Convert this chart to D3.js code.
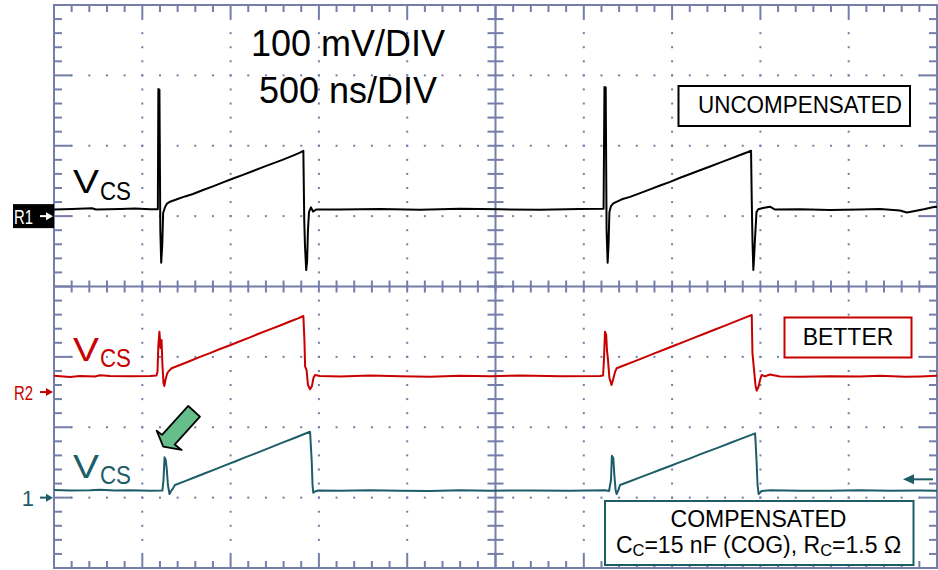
<!DOCTYPE html>
<html>
<head>
<meta charset="utf-8">
<script src="https://cdn.jsdelivr.net/npm/d3@7"></script>
<style>
  body { margin: 0; background: #fff; }
  svg { display: block; font-family: "Liberation Sans", Arial, sans-serif; }
</style>
</head>
<body>
<svg id="scope"></svg>
<script>
//Data: time in ns, level in mV measured from each channel's ground marker
const traceR1 = [[0,9.4],[102,10.1],[215,11.2],[238,9.4],[374,10.1],[459,10.7],[544,9.7],[588,9.7],[591,180.5],[597,179.8],[602,-19.7],[607,-66.2],[613,-41],[618,4.4],[629,12.9],[640,17.9],[657,20.5],[696,24.0],[742,28.0],[787,31.4],[844,37.1],[900,42.3],[957,47.9],[1014,53.4],[1070,58.7],[1127,64.1],[1183,69.7],[1240,74.9],[1297,80.3],[1353,85.9],[1393,90.2],[1412,92.9],[1417,-5.5],[1421,-41],[1428,-76.6],[1433,-65.2],[1438,-19.7],[1444,5.8],[1455,12.5],[1467,6.5],[1484,9.4],[1620,9.4],[1846,10.1],[2072,8.9],[2299,10.4],[2525,9.7],[2752,8.9],[2978,10.1],[3112,10.4],[3117,183.4],[3124,182.7],[3129,-19.7],[3135,-66.2],[3140,-41],[3145,5.8],[3154,14.3],[3167,18.2],[3215,23.9],[3262,27.3],[3319,32.7],[3375,38.1],[3432,43.6],[3489,48.7],[3545,54.5],[3602,59.8],[3658,65.2],[3715,70.6],[3772,76.0],[3828,81.4],[3885,86.8],[3930,91.1],[3947,92.9],[3951,22.9],[3955,-33.9],[3960,-76.6],[3965,-55.3],[3969,-33.9],[3978,5.8],[3988,9.7],[4015,11.5],[4054,13.4],[4083,9.4],[4224,9.7],[4394,8.7],[4564,9.4],[4677,10.1],[4790,8],[4830,5.1],[4875,7.2],[4932,10.1],[4989,13.4],[5000,12.9]];

const traceR2 = [[0,23.3],[91,21.4],[147,22.9],[232,22.2],[260,24.0],[317,22.9],[430,22.6],[544,22.9],[580,23.6],[586,28.6],[591,66.9],[597,85.8],[603,62.6],[609,74],[614,38.5],[620,12.9],[625,8.7],[631,17.2],[640,25.7],[647,29],[666,33.8],[713,38.5],[770,44.2],[827,49.9],[883,55.3],[940,61.2],[997,66.6],[1053,72.2],[1110,77.8],[1166,83.5],[1223,89.1],[1280,94.6],[1336,100.3],[1382,104.8],[1412,108.1],[1418,74],[1422,36.1],[1430,31.4],[1438,10.1],[1450,4],[1461,8.7],[1469,20],[1478,24.3],[1506,22.9],[1620,22.2],[1789,23.6],[1959,22.6],[2129,21.7],[2299,23.2],[2469,22.6],[2639,23.4],[2865,22.3],[3092,22.9],[3109,23.6],[3114,45.6],[3120,85.8],[3127,81.1],[3131,59.8],[3137,45.6],[3145,20],[3157,10.1],[3165,17.2],[3177,28.6],[3186,33.8],[3233,38.5],[3290,44],[3347,49.7],[3403,55.3],[3460,60.9],[3517,66.5],[3573,72],[3630,77.7],[3686,83.2],[3743,88.9],[3800,94.5],[3856,100.1],[3913,105.7],[3951,109.5],[3955,55.5],[3964,31.4],[3972,10.1],[3979,2],[3989,7.2],[3998,17.2],[4007,24.3],[4026,22.2],[4054,25],[4111,22.2],[4224,21.7],[4394,22.6],[4564,22.2],[4677,23.2],[4819,21.7],[4904,22.2],[5000,23.2]];

const traceCh1 = [[0,10.8],[91,10.1],[204,10.4],[260,11.2],[345,10.1],[430,10.5],[544,9.8],[614,10.1],[620,25],[626,57.2],[633,53.4],[639,39.2],[645,17.9],[654,5.1],[663,9.4],[674,13.2],[685,17.9],[742,23.4],[798,29],[855,34.7],[912,40.2],[968,45.9],[1025,51.4],[1082,57.1],[1138,62.6],[1195,68.3],[1251,73.9],[1308,79.5],[1365,85.1],[1421,90.8],[1450,93.6],[1459,53.4],[1464,17.9],[1468,7],[1478,8.7],[1495,10.1],[1620,9.7],[1789,10.5],[1959,9.9],[2129,9.5],[2299,10.4],[2469,9.8],[2695,10.2],[2922,9.7],[3120,10.5],[3143,9.4],[3154,25],[3159,59.5],[3167,56.3],[3173,32.1],[3180,10.8],[3186,5.1],[3196,10.8],[3205,17.9],[3262,23.3],[3319,28.7],[3375,34.1],[3432,39.6],[3489,45],[3545,50.4],[3602,55.8],[3658,61.4],[3715,66.8],[3772,72.2],[3828,77.6],[3885,83.1],[3941,88.5],[3970,91.3],[3978,53.4],[3984,17.9],[3990,5.1],[4007,9.4],[4054,10.4],[4224,9.9],[4394,9.7],[4564,10.5],[4734,9.8],[4904,10.2],[5000,9.9]];

//channel ground markers in divisions, trigger level in mV on ch1
const channelNames = ['R1', 'R2', '1'];
const channelOffsets = [1, -1.5, -3];
const channelColors = ['#000000', '#c80000', '#1d5d68'];
const triggerLevel = 26;
const spikePoint = [626, 57.2];

const scaleText = ['100 mV/DIV', '500 ns/DIV'];
const boxLabels = ['UNCOMPENSATED', 'BETTER', 'COMPENSATED'];

window.addEventListener('DOMContentLoaded', e => {
    let width = 938;
    let height = 570;
    let gridColor = '#757da9';

    let svg = d3.select('#scope')
        .attr('width', width)
        .attr('height', height);

    let xScale = d3.scaleLinear().domain([0, 5000]).range([54, 937]);
    let yScale = d3.scaleLinear().domain([-4, 4]).range([568, 5]);

    let minorX = xScale.ticks(50);
    let minorY = yScale.ticks(40);
    const isMajorX = t => t % 500 === 0;
    const isMajorY = v => Math.abs(v - Math.round(v)) < 1e-6;

    //Graticule
    let grid = svg.append('g');
    let x0 = xScale(0), x1 = xScale(5000), y0 = yScale(4), y1 = yScale(-4);
    let xc = xScale(2500), yc = yScale(0);

    let dots = [];
    minorX.filter(t => isMajorX(t) && t > 0 && t < 5000 && t !== 2500)
        .forEach(t => minorY.forEach(v => dots.push([t, v])));
    minorY.filter(v => isMajorY(v) && v > -4 && v < 4 && Math.abs(v) > 1e-6)
        .forEach(v => minorX.forEach(t => dots.push([t, v])));

    grid.selectAll('.dot')
        .data(dots)
        .enter()
        .append('rect')
        .attr('class', 'dot')
        .attr('x', d => xScale(d[0]) - 1)
        .attr('y', d => yScale(d[1]) - 1)
        .attr('width', 2)
        .attr('height', 2)
        .attr('fill', gridColor);

    let segs = [];
    minorX.forEach(t => {
        let x = xScale(t);
        let len = isMajorX(t) ? 13 : 7;
        segs.push([x, y0, x, y0 + len]);
        segs.push([x, y1, x, y1 - len]);
        segs.push([x, yc - 6, x, yc + 6]);
    });
    minorY.forEach(v => {
        let y = yScale(v);
        let len = isMajorY(v) ? 18 : 8;
        segs.push([x0, y, x0 + len, y]);
        segs.push([x1, y, x1 - len, y]);
        segs.push([xc - 8, y, xc + 8, y]);
    });
    segs.push([xc, y0, xc, y1]);
    segs.push([x0, yc, x1, yc]);

    grid.selectAll('.tick')
        .data(segs)
        .enter()
        .append('line')
        .attr('x1', d => d[0]).attr('y1', d => d[1])
        .attr('x2', d => d[2]).attr('y2', d => d[3])
        .attr('stroke', gridColor)
        .attr('stroke-width', 2);

    grid.append('rect')
        .attr('x', x0).attr('y', y0)
        .attr('width', x1 - x0).attr('height', y1 - y0)
        .attr('fill', 'none')
        .attr('stroke', gridColor)
        .attr('stroke-width', 2);

    //Traces
    [traceR1, traceR2, traceCh1].forEach((trace, i) => {
        let line = d3.line()
            .x(d => xScale(d[0]))
            .y(d => yScale(channelOffsets[i] + d[1] / 100));
        svg.append('path')
            .datum(trace)
            .attr('d', line)
            .attr('fill', 'none')
            .attr('stroke', channelColors[i])
            .attr('stroke-width', 2)
            .attr('stroke-linejoin', 'round');
    });

    //Ground markers on the left
    channelOffsets.forEach((off, i) => {
        let y = yScale(off);
        let fg = channelColors[i];
        if (i === 0) {
            svg.append('rect')
                .attr('x', 13).attr('y', y - 12)
                .attr('width', x0 - 13).attr('height', 24)
                .attr('fill', '#000');
            fg = '#fff';
        }
        let label = svg.append('text')
            .attr('y', y + 8)
            .attr('font-size', 20)
            .attr('fill', fg)
            .text(channelNames[i]);
        if (i === 2) {
            label.attr('x', 34).attr('text-anchor', 'end').attr('font-size', 22).attr('y', y + 8.5);
        } else {
            label.attr('x', 14).attr('textLength', 19).attr('lengthAdjust', 'spacingAndGlyphs');
        }
        svg.append('line')
            .attr('x1', 40).attr('x2', 48)
            .attr('y1', y).attr('y2', y)
            .attr('stroke', fg).attr('stroke-width', 2);
        svg.append('path')
            .attr('d', `M${x0 - 1},${y} L${x0 - 8},${y - 4} L${x0 - 8},${y + 4} Z`)
            .attr('fill', fg);
    });

    //Trigger level marker on the right
    let ty = yScale(channelOffsets[2] + triggerLevel / 100);
    svg.append('line')
        .attr('x1', 912).attr('x2', 933)
        .attr('y1', ty).attr('y2', ty)
        .attr('stroke', channelColors[2]).attr('stroke-width', 2);
    svg.append('path')
        .attr('d', `M903,${ty} L914,${ty - 5} L914,${ty + 5} Z`)
        .attr('fill', channelColors[2]);

    //V_CS labels
    let vLabels = [[193.3, 200], [360.7, 367.3], [477.5, 484]];
    vLabels.forEach((b, i) => {
        svg.append('text')
            .attr('x', 73).attr('y', b[0])
            .attr('font-size', 34)
            .attr('textLength', 26).attr('lengthAdjust', 'spacingAndGlyphs')
            .attr('fill', channelColors[i])
            .text('V');
        svg.append('text')
            .attr('x', 100).attr('y', b[1])
            .attr('font-size', 25)
            .attr('textLength', 31).attr('lengthAdjust', 'spacingAndGlyphs')
            .attr('fill', channelColors[i])
            .text('CS');
    });

    //Scale settings
    svg.append('text')
        .attr('x', 348).attr('y', 56)
        .attr('text-anchor', 'middle')
        .attr('font-size', 36)
        .text(scaleText[0]);
    svg.append('text')
        .attr('x', 348).attr('y', 102.7)
        .attr('text-anchor', 'middle')
        .attr('font-size', 36)
        .text(scaleText[1]);

    //Label boxes
    svg.append('rect')
        .attr('x', 678.5).attr('y', 86)
        .attr('width', 231.5).attr('height', 40)
        .attr('fill', '#fff').attr('stroke', '#000').attr('stroke-width', 2);
    svg.append('text')
        .attr('x', 698).attr('y', 113.3)
        .attr('font-size', 23)
        .attr('textLength', 204).attr('lengthAdjust', 'spacingAndGlyphs')
        .text(boxLabels[0]);

    svg.append('rect')
        .attr('x', 784.5).attr('y', 317.5)
        .attr('width', 127).attr('height', 40)
        .attr('fill', '#fff').attr('stroke', channelColors[1]).attr('stroke-width', 2);
    svg.append('text')
        .attr('x', 848).attr('y', 345)
        .attr('text-anchor', 'middle')
        .attr('font-size', 23)
        .text(boxLabels[1]);

    svg.append('rect')
        .attr('x', 605).attr('y', 501)
        .attr('width', 308.5).attr('height', 64)
        .attr('fill', '#fff').attr('stroke', channelColors[2]).attr('stroke-width', 2);
    svg.append('text')
        .attr('x', 758.5).attr('y', 527.3)
        .attr('text-anchor', 'middle')
        .attr('font-size', 23)
        .text(boxLabels[2]);
    let comp = svg.append('text')
        .attr('x', 758.5).attr('y', 553.3)
        .attr('text-anchor', 'middle')
        .attr('font-size', 23);
    comp.append('tspan').text('C');
    comp.append('tspan').attr('font-size', 16.5).attr('dy', 3).text('C');
    comp.append('tspan').attr('dy', -3).text('=15 nF (COG), R');
    comp.append('tspan').attr('font-size', 16.5).attr('dy', 3).text('C');
    comp.append('tspan').attr('dy', -3).text('=1.5 \u03A9');

    //Green arrow pointing at the compensated spike
    let ax = xScale(spikePoint[0]);
    let ay = yScale(channelOffsets[2] + spikePoint[1] / 100);
    let arrow = [[-1.3, -10.7], [17.1, -7.4], [10.1, -12.8], [35.4, -40.7], [23.7, -51.4], [-2.5, -22.5], [-7.9, -26.7]];
    svg.append('polygon')
        .attr('points', arrow.map(p => (ax + p[0]) + ',' + (ay + p[1])).join(' '))
        .attr('fill', '#66bf8a')
        .attr('stroke', '#000')
        .attr('stroke-width', 1.8)
        .attr('stroke-linejoin', 'round');
});
</script>
</body>
</html>
